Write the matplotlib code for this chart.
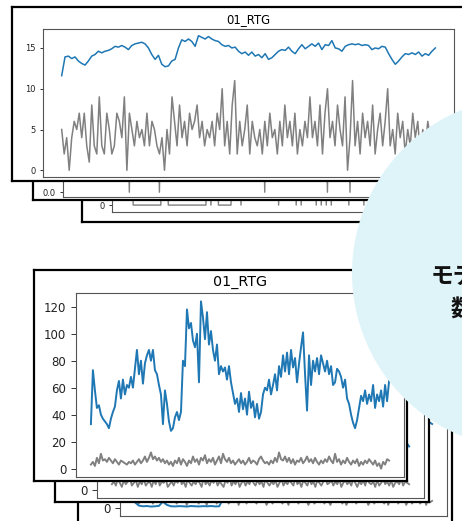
import numpy as np
import matplotlib
matplotlib.use("Agg")
import matplotlib.pyplot as plt
from matplotlib.patches import Circle

# --- data -----------------------------------------------------------------
titulo = "01_RTG"

# cartao de cima (frente)
topo_azul = [
    11.6, 13.9, 14.0, 13.7, 13.9, 13.4, 13.1, 12.9, 13.4, 14.0, 14.2, 14.6, 14.4,
    14.6, 14.7, 14.9, 15.2, 15.1, 15.3, 15.1, 14.8, 15.3, 15.5, 15.6, 15.7, 15.5,
    15.0, 14.2, 13.6, 14.1, 13.0, 12.7, 12.8, 13.4, 13.6, 15.0, 16.0, 15.8, 16.1,
    15.8, 15.2, 16.5, 16.3, 16.1, 16.4, 16.1, 15.9, 15.8, 15.4, 15.2, 15.3, 15.0,
    15.1, 14.6, 14.3, 14.5, 14.1, 14.5, 14.0, 14.2, 13.8, 14.3, 13.6, 13.8, 14.2,
    14.6, 14.8, 14.7, 15.1, 14.6, 14.3, 14.9, 15.4, 14.9, 15.2, 15.5, 15.2, 15.6,
    14.8, 15.4, 15.3, 15.9, 15.0, 14.9, 14.6, 15.2, 15.4, 15.5, 15.4, 15.5, 15.3,
    15.4, 15.3, 14.8, 15.0, 14.9, 15.2, 15.1, 14.3, 13.6, 13.0, 13.4, 13.9, 14.3,
    14.2, 14.4, 14.2, 14.5, 14.0, 14.3, 14.1, 14.6, 15.0,
]
topo_cinza = [
    5, 2, 4, 0, 4, 6, 5, 7, 4, 7, 3, 1, 8, 3, 2, 9, 3, 2, 7, 5,
    2, 3, 7, 6, 4, 9, 0, 7, 5, 3, 6, 4, 5, 3, 7, 3, 6, 5, 3, 2,
    4, 0, 5, 2, 9, 6, 3, 8, 4, 6, 3, 7, 5, 6, 8, 4, 6, 3, 5, 4,
    6, 3, 7, 5, 10, 3, 6, 2, 8, 11, 2, 6, 3, 5, 8, 2, 6, 4, 3, 5,
    2, 6, 3, 7, 4, 5, 2, 6, 3, 8, 4, 6, 3, 7, 2, 5, 3, 6, 4, 9,
    4, 6, 3, 8, 2, 7, 10, 4, 6, 3, 8, 5, 3, 9, 0, 4, 11, 3, 6, 2,
    7, 4, 6, 3, 8, 2, 5, 7, 3, 6, 10, 3, 5, 2, 7, 4, 6, 2, 5, 3,
    7, 4, 6, 2, 5, 3, 6, 4, 5, 5,
]
# cartoes de tras (so a parte de baixo aparece)
topo2_cinza = [
    1, 1, 1, 1, 1, 1, 1, 1, 1, 1, 1, 1, 1, 1, 1, 1, 1, 1, 1, 0,
    1, 1, 1, 1, 1, 1, 1, 1, 1, 1, 1, 0, 1, 1, 1, 1, 1, 1, 1, 1,
    1, 1, 1, 1, 1, 1, 1, 1, 1, 1, 1, 1, 1, 1, 1, 1, 1, 1, 1, 1,
    1, 1, 1, 1, 1, 1, 1, 1, 1, 1, 1, 1, 1, 0, 1, 1, 1, 1, 1, 1,
    1, 1, 1, 1, 1, 1, 1, 1, 1, 1, 1, 1, 1, 1, 1, 1, 1, 1, 0, 1,
    1, 1, 1, 1, 1, 1, 1, 0, 1, 1, 1, 1, 1, 1, 1, 1, 1, 1, 1, 0,
    1, 1, 1, 1, 1, 1, 1, 1, 1, 1, 1, 1, 1, 1, 1, 0, 1, 1, 1, 1,
    1, 1, 1, 1, 1, 1, 1, 1, 1, 1,
]
topo3_cinza = [
    1, 0, 0, 0, 0, 0, 0, 0, 0, 0, 0, 0, 0, 1, 1, 0, 0, 0, 0, 0,
    0, 0, 0, 0, 0, 0, 0, 0, 0, 0, 0, 0.6, 0, 0.6, 1, 0, 0, 0, 0, 0,
    0, 1, 1, 1, 0, 1, 1, 1, 1, 1, 1, 1, 1, 1, 1, 1, 1, 1, 1, 0,
    1, 1, 1, 1, 1, 1, 0, 0.5, 0, 1, 1, 1, 1, 1, 0, 1, 0, 1, 0, 1,
    0, 1, 1, 1, 1, 1, 1, 0, 1, 1, 1, 1, 1, 0, 1, 1, 1, 1, 1, 1,
    1, 0, 1, 1, 1, 1, 1, 1, 1, 1, 1, 1, 0, 1, 1, 1, 1, 1, 1, 1,
    1, 1, 1, 1, 1, 1, 1, 1, 1, 1, 0, 1, 1, 1, 1, 1, 1, 1, 1, 1,
    1, 1, 1, 1, 1, 1, 1, 1, 1, 1,
]

# cartao de baixo (frente)
base_azul = [
    33, 73, 58, 45, 47, 40, 37, 35, 33, 30, 37, 42, 46, 58, 65, 52, 66, 55, 62, 60,
    68, 60, 74, 88, 70, 80, 63, 78, 84, 88, 80, 88, 73, 70, 62, 55, 33, 58, 48, 35,
    28, 30, 38, 42, 36, 42, 80, 76, 118, 104, 108, 95, 90, 100, 64, 124, 112, 96, 116, 92,
    102, 88, 80, 92, 70, 76, 72, 75, 66, 76, 64, 56, 48, 52, 42, 56, 44, 52, 40, 57,
    45, 50, 38, 48, 37, 42, 55, 60, 58, 66, 55, 62, 70, 58, 76, 68, 84, 72, 86, 70,
    88, 75, 82, 64, 78, 90, 101, 70, 43, 84, 62, 80, 72, 82, 70, 84, 78, 72, 80, 70,
    76, 62, 64, 74, 72, 68, 60, 66, 52, 48, 40, 34, 30, 36, 45, 54, 50, 58, 48, 55,
    50, 62, 45, 55, 50, 58, 46, 62, 50, 65,
]
base_cinza = [
    3, 5, 2, 8, 4, 11, 6, 7, 5, 8, 6, 4, 7, 5, 3, 6, 5, 4, 3, 5,
    4, 6, 3, 5, 7, 4, 6, 9, 5, 8, 12, 7, 9, 6, 8, 5, 7, 4, 6, 3,
    5, 2, 6, 4, 8, 3, 7, 5, 2, 6, 4, 9, 5, 7, 3, 8, 6, 10, 4, 7,
    5, 8, 3, 6, 9, 4, 11, 7, 5, 8, 4, 6, 3, 5, 7, 4, 6, 3, 5, 8,
    4, 6, 5, 3, 7, 9, 6, 4, 5, 3, 6, 4, 8, 5, 12, 7, 6, 9, 5, 8,
    4, 7, 3, 6, 5, 8, 4, 6, 9, 5, 7, 4, 8, 5, 3, 6, 4, 7, 5, 9,
    6, 4, 11, 5, 7, 3, 6, 4, 8, 5, 3, 6, 4, 7, 2, 5, 3, 6, 4, 7,
    5, 3, 6, 2, 4, 0, 5, 3, 7, 6,
]
base2_azul = [
    40, 65, 55, 80, 90, 70, 100, 85, 60, 45, 50, 75, 95, 110, 124, 100, 80, 70, 60, 55,
    45, 50, 65, 80, 90, 85, 70, 75, 60, 50, 45, 55, 60, 65, 50, 42, 48, 38, 40, 32,
]
base2_cinza = [
    4, 6, 3, 8, 5, 2, 7, 4, 6, 9, 3, 5, 7, 2, 6, 4, 8, 3, 5, 6,
    2, 7, 4, 9, 3, 6, 5, 8, 2, 4, 6, 3, 7, 5, 10, 4, 6, 2, 8, 5,
    3, 6, 4, 7, 5, 2, 9, 4, 6, 3, 7, 5, 8, 3, 6, 4, 2, 7, 5, 9,
    3, 6, 4, 8, 2, 5, 7, 3, 6, 4, 9, 5, 3, 7, 4, 6, 2, 8, 5, 3,
    6, 4, 7, 2, 5, 8, 3, 6, 4, 7, 5, 3, 9, 4, 6, 2, 7, 5, 3, 8,
    4, 6, 2, 7, 5, 3, 6, 9, 4, 5, 7, 3, 6, 4, 8, 2, 5, 7, 4, 6,
    3, 8, 5, 2, 6, 4, 7, 3, 9, 5, 4, 6, 2, 7, 3, 5, 8, 4, 6, 3,
    7, 2, 5, 6, 4, 8, 3, 6, 5, 4,
]
base3_azul = [
    4, 1.5, 1, 1.2, 0.8, 1, 1.3, 4.5, 2, 1, 0.9, 1.1, 1, 0.8, 1.2, 1, 0.9, 1.1, 1, 1.2,
    0.9, 1, 7, 35, 50, 65, 60, 80, 95, 120, 105, 90, 80, 70, 60, 55, 50, 45, 55, 60,
    70, 75, 85, 90, 80, 75, 70, 65, 80, 85, 75, 70, 60, 55, 50, 45, 40, 35, 45, 50,
    55, 60, 50, 55, 60, 58, 62, 55, 60, 65, 58, 62, 60, 64, 62,
]
base3_cinza = [
    5, 7, 3, 6, 8, 4, 6, 5, 9, 3, 6, 4, 7, 5, 8, 3, 6, 9, 4, 7,
    5, 3, 8, 6, 4, 7, 2, 6, 5, 8, 4, 7, 3, 9, 5, 6, 2, 7, 4, 6,
    8, 3, 5, 7, 4, 9, 6, 3, 5, 7, 4, 8, 2, 6, 5, 7, 3, 9, 4, 6,
    5, 3, 7, 4, 8, 6, 2, 5, 7, 3, 6, 9, 4, 5, 3, 7, 6, 2, 8, 4,
    5, 7, 3, 6, 4, 8, 5, 2, 6, 7, 3, 5, 9, 4, 6, 3, 7, 5, 2, 6,
    8, 4, 5, 7, 3, 6, 2, 5, 8, 4, 6, 3, 7, 5, 9, 4, 6, 2, 5, 7,
    3, 6, 4, 8, 5, 3, 7, 2, 6, 4, 5, 8, 3, 6, 4, 7, 2, 5, 6, 3,
    7, 4, 6, 3, 5, 8, 2, 6, 4, 5,
]

texto_linha1 = "モデルの入力データ"
texto_linha2 = "数値データの例"

AZUL = "#1f77b4"
CINZA = "#808080"
W, H = 462, 521


def caixa(x0, y0, x1, y1):
    # pixels (origem em cima) -> fracao da figura
    return [x0 / W, 1 - y1 / H, (x1 - x0) / W, (y1 - y0) / H]


def cartao(fig, box, z):
    ax = fig.add_axes(caixa(*box), zorder=z)
    ax.set_xticks([])
    ax.set_yticks([])
    ax.set_facecolor("white")
    for s in ax.spines.values():
        s.set_color("black")
        s.set_linewidth(1.6)
    return ax


def painel(fig, box, z, fs, comp, pad):
    ax = fig.add_axes(caixa(*box), zorder=z)
    ax.set_xticks([])
    ax.tick_params(axis="y", labelsize=fs, length=comp, pad=pad, width=0.7,
                   color="#333333", labelcolor="#222222")
    for s in ax.spines.values():
        s.set_color("#555555")
        s.set_linewidth(0.8)
    return ax


def linha(ax, vals, cor, lw):
    ax.plot(np.linspace(0, 1, len(vals)), vals, color=cor, lw=lw)


fig = plt.figure(figsize=(W / 100, H / 100), dpi=100)
fig.patch.set_facecolor("white")

# ---- grupo de cima --------------------------------------------------------
cartao(fig, (82, 45, 690, 222), 1)
ax = painel(fig, (112, 60, 523, 212), 2, 6, 2.5, 2.5)
linha(ax, topo3_cinza, CINZA, 1.0)
ax.set_ylim(-0.05, 1.05)
ax.set_yticks([0, 1])

cartao(fig, (33, 27, 661, 200), 3)
ax = painel(fig, (63, 49, 474, 197), 4, 6, 2.5, 2.5)
linha(ax, topo2_cinza, CINZA, 1.0)
ax.set_ylim(-0.035, 1.05)
ax.set_yticks([0.0, 0.5, 1.0])

cartao(fig, (12, 7, 640, 181), 5)
ax = painel(fig, (43, 29, 454, 177), 6, 6, 2.5, 2.5)
linha(ax, topo_azul, AZUL, 1.1)
linha(ax, topo_cinza, CINZA, 1.1)
ax.set_yticks([0, 5, 10, 15])
ax.set_title(titulo, fontsize=8.4, pad=4)

# ---- grupo de baixo -------------------------------------------------------
cartao(fig, (78, 309, 452, 545), 1)
ax = painel(fig, (120, 332, 447, 516), 2, 8.5, 3.5, 3.5)
linha(ax, base3_cinza, CINZA, 1.3)
linha(ax, base3_azul, AZUL, 1.4)
ax.set_ylim(-6.2, 130.2)

cartao(fig, (55, 291, 429, 502), 3)
ax = painel(fig, (97, 314, 424, 498), 4, 8.5, 3.5, 3.5)
linha(ax, base2_cinza, CINZA, 1.3)
linha(ax, base2_azul, AZUL, 1.4)
ax.set_ylim(-6.2, 130.2)

cartao(fig, (34, 270, 407, 481), 5)
ax = painel(fig, (76, 293, 404, 477), 6, 8.5, 3.5, 3.5)
linha(ax, base_azul, AZUL, 1.4)
linha(ax, base_cinza, CINZA, 1.4)
ax.set_yticks([0, 20, 40, 60, 80, 100, 120])
ax.set_title(titulo, fontsize=10.3, pad=5)

# ---- circulo com texto ----------------------------------------------------
ov = fig.add_axes([0, 0, 1, 1], zorder=10)
ov.set_xlim(0, W)
ov.set_ylim(H, 0)
ov.axis("off")
ov.add_patch(Circle((528, 273), 176, color="#dff4f9", lw=0))
fonte = ["Noto Sans CJK JP", "DejaVu Sans"]
ov.text(431, 277, texto_linha1, fontsize=16.5, fontweight="bold",
        family=fonte, va="center", ha="left", color="#111111")
ov.text(451, 310, texto_linha2, fontsize=16.5, fontweight="bold",
        family=fonte, va="center", ha="left", color="#111111")

fig.savefig("out.png", dpi=100)
plt.close(fig)
